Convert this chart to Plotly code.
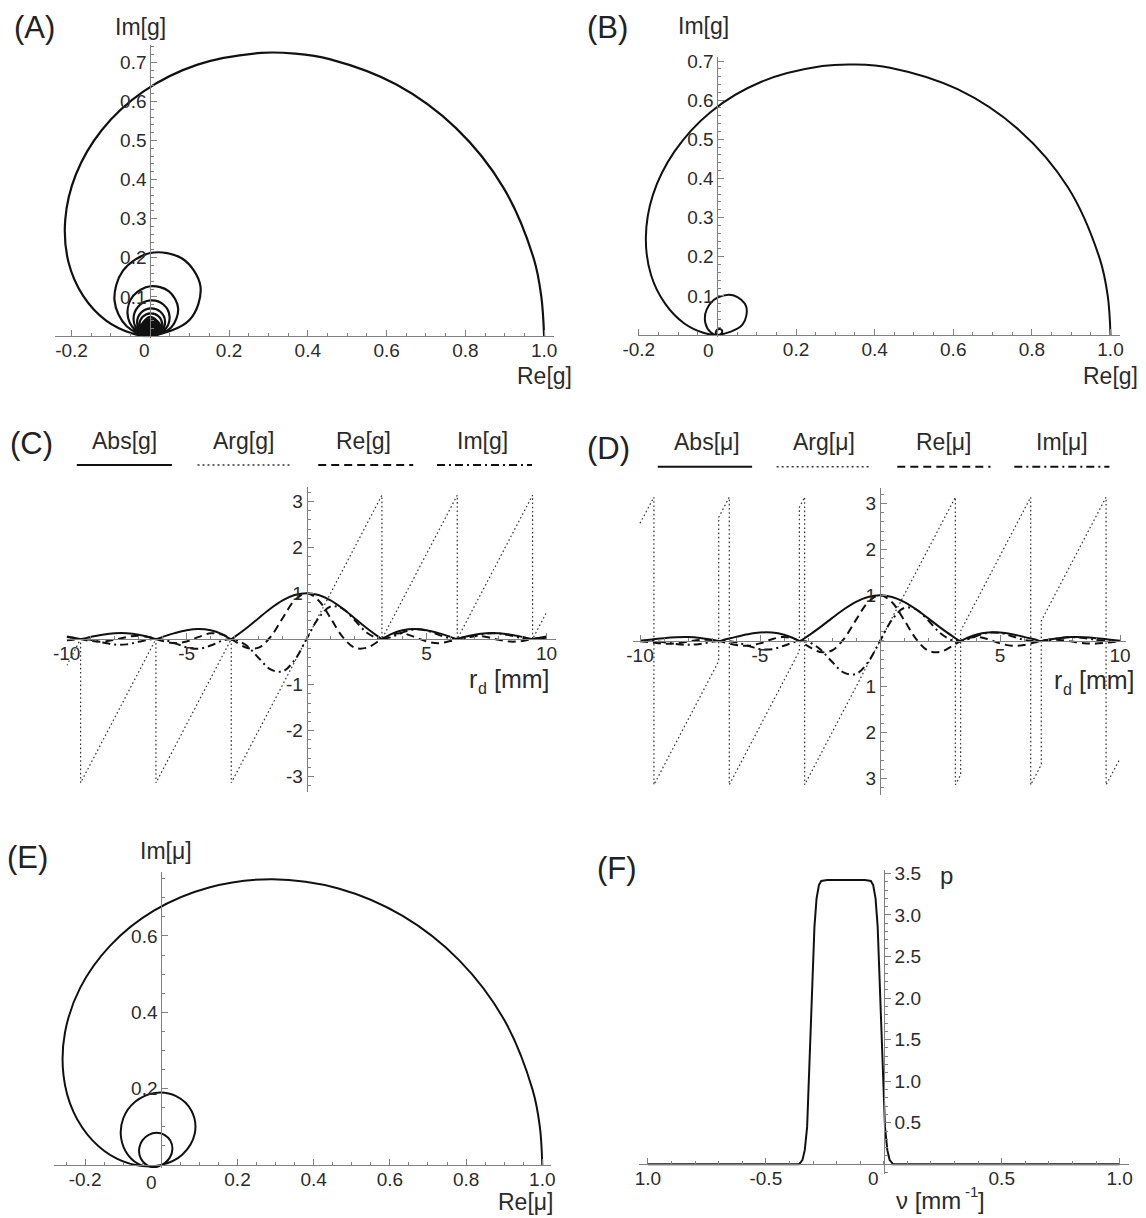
import plotly.graph_objects as go

W, H = 1146, 1218
FONT = "Liberation Sans Narrow, Arial Narrow, Liberation Sans, Arial, sans-serif"
GREY = "#808080"
TXT = "#2b2b2b"
INK = "#111111"

# ---------------- (A) g(r) on the complex plane, r >= 0 ----------------
A_RE = [1.000, 0.993, 0.974, 0.897, 0.777, 0.625, 0.455, 0.368, 0.281, 0.120, -0.018,
        -0.123, -0.189, -0.216, -0.208, -0.170, -0.113, -0.047, 0.0,
        0.1000, 0.1273, 0.0818, 0.0, -0.0693, -0.0909, -0.0600, 0.0,
        0.0530, 0.0707, 0.0474, 0.0, -0.0429, -0.0579, -0.0392, 0.0,
        0.0360, 0.0490, 0.0333, 0.0, -0.0310, -0.0424, -0.0290, 0.0,
        0.0273, 0.0375, 0.0257, 0.0, -0.0243, -0.0335, -0.0231, 0.0,
        0.0220, 0.0303, 0.0209, 0.0, -0.0200, -0.0277, -0.0192, 0.0,
        0.0255, 0.0, -0.0236, 0.0,
        0.0219, 0.0, -0.0205, 0.0,
        0.0193, 0.0, -0.0182, 0.0,
        0.0172, 0.0, -0.0163, 0.0,
        0.0155, 0.0, -0.0148, 0.0,
        0.0141, 0.0, -0.0135, 0.0,
        0.0130, 0.0, -0.0125, 0.0,
        0.0120, 0.0, -0.0116, 0.0,
        0.0112, 0.0, -0.0108, 0.0,
        0.0104, 0.0, -0.0101, 0.0,
        0.0098, 0.0, -0.0095, 0.0,
        0.0092, 0.0, -0.0090, 0.0,
        0.0087, 0.0, -0.0085, 0.0,
        0.0083, 0.0, -0.0081, 0.0,
        0.0079, 0.0, -0.0077, 0.0,
        0.0075, 0.0, -0.0073, 0.0,
        0.0072, 0.0, -0.0070, 0.0,
        0.0069, 0.0, -0.0067, 0.0,
        0.0066, 0.0, -0.0064, 0.0,
        0.0063, 0.0, -0.0062, 0.0,
        0.0056, 0.0, -0.0055, 0.0,
        0.0050, 0.0, -0.0049, 0.0,
        0.0042, 0.0, -0.0041, 0.0,
        0.0035, 0.0, -0.0035, 0.0,
        0.0026, 0.0, -0.0026, 0.0]
A_IM = [0.000, 0.100, 0.197, 0.379, 0.531, 0.643, 0.708, 0.722, 0.724, 0.694, 0.625,
        0.527, 0.413, 0.297, 0.190, 0.102, 0.040, 0.007, 0.0,
        0.0414, 0.1273, 0.1976, 0.2122, 0.1672, 0.0909, 0.0249, 0.0,
        0.0219, 0.0707, 0.1144, 0.1273, 0.1035, 0.0579, 0.0162, 0.0,
        0.0149, 0.0490, 0.0805, 0.0909, 0.0749, 0.0424, 0.0120, 0.0,
        0.0113, 0.0375, 0.0621, 0.0707, 0.0587, 0.0335, 0.0096, 0.0,
        0.0091, 0.0303, 0.0505, 0.0579, 0.0483, 0.0277, 0.0079, 0.0,
        0.0255, 0.0490, 0.0236, 0.0,
        0.0219, 0.0424, 0.0205, 0.0,
        0.0193, 0.0375, 0.0182, 0.0,
        0.0172, 0.0335, 0.0163, 0.0,
        0.0155, 0.0303, 0.0148, 0.0,
        0.0141, 0.0277, 0.0135, 0.0,
        0.0130, 0.0255, 0.0125, 0.0,
        0.0120, 0.0236, 0.0116, 0.0,
        0.0112, 0.0220, 0.0108, 0.0,
        0.0104, 0.0205, 0.0101, 0.0,
        0.0098, 0.0193, 0.0095, 0.0,
        0.0092, 0.0182, 0.0090, 0.0,
        0.0087, 0.0172, 0.0085, 0.0,
        0.0083, 0.0163, 0.0081, 0.0,
        0.0079, 0.0155, 0.0077, 0.0,
        0.0075, 0.0148, 0.0073, 0.0,
        0.0072, 0.0142, 0.0070, 0.0,
        0.0069, 0.0135, 0.0067, 0.0,
        0.0066, 0.0130, 0.0064, 0.0,
        0.0063, 0.0125, 0.0062, 0.0,
        0.0056, 0.0112, 0.0055, 0.0,
        0.0050, 0.0098, 0.0049, 0.0,
        0.0042, 0.0083, 0.0041, 0.0,
        0.0035, 0.0070, 0.0035, 0.0,
        0.0026, 0.0053, 0.0026, 0.0]

# ---------------- (B) apodised g(r) ----------------
B_RE = [1.000, 0.993, 0.972, 0.892, 0.767, 0.611, 0.439, 0.352, 0.267, 0.112, -0.017,
        -0.109, -0.164, -0.182, -0.169, -0.133, -0.085, -0.034, 0.0,
        0.0638, 0.0731, 0.0418, 0.0, -0.0271, -0.0306, -0.0172, 0.0,
        0.0107, 0.0117, 0.0064, 0.0, -0.0037, -0.0039, -0.0021, 0.0]
B_IM = [0.000, 0.100, 0.197, 0.377, 0.524, 0.628, 0.683, 0.691, 0.687, 0.647, 0.570,
        0.469, 0.358, 0.249, 0.154, 0.080, 0.030, 0.005, 0.0,
        0.0264, 0.0731, 0.1010, 0.0954, 0.0654, 0.0306, 0.0071, 0.0,
        0.0044, 0.0117, 0.0154, 0.0138, 0.0089, 0.0039, 0.0009, 0.0]

# ---------------- (C) components of g versus r_d ----------------
RD_G = [-10, -9.5, -9.42, -9, -8.5, -8, -7.5, -7, -6.5, -6.28, -6, -5.5, -5, -4.5, -4,
        -3.5, -3.14, -3, -2.5, -2, -1.5, -1, -0.5, 0, 0.5, 1, 1.5, 2, 2.5, 3, 3.14, 3.5,
        4, 4.5, 5, 5.5, 6, 6.28, 6.5, 7, 7.5, 8, 8.5, 9, 9.42, 9.5, 10]
ABS_G = [0.0544, 0.0079, 0.0, 0.0458, 0.0939, 0.1237, 0.1251, 0.0939, 0.0331, 0.0, 0.0466,
         0.1283, 0.1918, 0.2172, 0.1892, 0.1002, 0.0, 0.0470, 0.2394, 0.4546, 0.6650,
         0.8415, 0.9589, 1.0, 0.9589, 0.8415, 0.6650, 0.4546, 0.2394, 0.0470, 0.0, 0.1002,
         0.1892, 0.2172, 0.1918, 0.1283, 0.0466, 0.0, 0.0331, 0.0939, 0.1251, 0.1237,
         0.0939, 0.0458, 0.0, 0.0079, 0.0544]
RE_G = [0.0456, 0.0079, 0.0, -0.0417, -0.0565, -0.0180, 0.0433, 0.0707, 0.0323, 0.0, -0.0447,
        -0.0909, -0.0544, 0.0458, 0.1237, 0.0939, 0.0, -0.0466, -0.1918, -0.1892, 0.0470,
        0.4546, 0.8415, 1.0, 0.8415, 0.4546, 0.0470, -0.1892, -0.1918, -0.0466, 0.0, 0.0939,
        0.1237, 0.0458, -0.0544, -0.0909, -0.0447, 0.0, 0.0323, 0.0707, 0.0433, -0.0180,
        -0.0565, -0.0417, 0.0, 0.0079, 0.0456]
IM_G = [-0.0296, -0.0006, 0.0, -0.0189, -0.0750, -0.1224, -0.1173, -0.0617, -0.0071, 0.0,
        -0.0130, -0.0905, -0.1839, -0.2123, -0.1432, -0.0352, 0.0, -0.0066, -0.1433, -0.4134,
        -0.6633, -0.7081, -0.4597, 0.0, 0.4597, 0.7081, 0.6633, 0.4134, 0.1433, 0.0066, 0.0,
        0.0352, 0.1432, 0.2123, 0.1839, 0.0905, 0.0130, 0.0, 0.0071, 0.0617, 0.1173, 0.1224,
        0.0750, 0.0189, 0.0, 0.0006, 0.0296]
ARG_G_R = [-10, -9.42, -9.42, -6.28, -6.28, -3.14, -3.14, 3.14, 3.14, 6.28, 6.28, 9.42, 9.42, 10]
ARG_G = [-0.58, 0.0, -3.14, 0.0, -3.14, 0.0, -3.14, 3.14, 0.0, 3.14, 0.0, 3.14, 0.0, 0.58]

# ---------------- (D) components of mu versus r_d ----------------
RD_M = [-10, -9.5, -9, -8.5, -8, -7.5, -7, -6.72, -6.5, -6, -5.5, -5, -4.5, -4, -3.5, -3.36,
        -3, -2.5, -2, -1.5, -1, -0.5, 0, 0.5, 1, 1.5, 2, 2.5, 3, 3.36, 3.5, 4, 4.5, 5, 5.5,
        6, 6.5, 6.72, 7, 7.5, 8, 8.5, 9, 9.5, 10]
ABS_M = [0.0044, 0.0341, 0.0624, 0.0817, 0.0853, 0.0681, 0.0296, 0.0, 0.0261, 0.0902, 0.1477,
         0.1843, 0.1845, 0.1370, 0.0371, 0.0, 0.1119, 0.2969, 0.4991, 0.6935, 0.8556, 0.9625,
         1.0, 0.9625, 0.8556, 0.6935, 0.4991, 0.2969, 0.1119, 0.0, 0.0371, 0.1370, 0.1845,
         0.1843, 0.1477, 0.0902, 0.0261, 0.0, 0.0296, 0.0681, 0.0853, 0.0817, 0.0624, 0.0341,
         0.0044]
RE_M = [-0.0037, -0.0340, -0.0569, -0.0492, -0.0124, 0.0236, 0.0223, 0.0, -0.0255, -0.0866,
        -0.1047, -0.0523, 0.0389, 0.0895, 0.0347, 0.0, -0.1108, -0.2378, -0.2077, 0.0490,
        0.4623, 0.8447, 1.0, 0.8447, 0.4623, 0.0490, -0.2077, -0.2378, -0.1108, 0.0, 0.0347,
        0.0895, 0.0389, -0.0523, -0.1047, -0.0866, -0.0255, 0.0, 0.0223, 0.0236, -0.0124,
        -0.0492, -0.0569, -0.0340, -0.0037]
IM_M = [0.0024, 0.0026, -0.0257, -0.0652, -0.0844, -0.0639, -0.0194, 0.0, 0.0056, -0.0252,
        -0.1042, -0.1767, -0.1804, -0.1037, -0.0130, 0.0, -0.0158, -0.1777, -0.4538, -0.6918,
        -0.7200, -0.4614, 0.0, 0.4614, 0.7200, 0.6918, 0.4538, 0.1777, 0.0158, 0.0, 0.0130,
        0.1037, 0.1804, 0.1767, 0.1042, 0.0252, -0.0056, 0.0, 0.0194, 0.0639, 0.0844, 0.0652,
        0.0257, -0.0026, -0.0024]
ARG_M_R = [-10, -9.42, -9.42, -6.72, -6.72, -6.28, -6.28, -3.36, -3.36, -3.14, -3.14, 3.14,
           3.14, 3.36, 3.36, 6.28, 6.28, 6.72, 6.72, 9.42, 9.42, 10]
ARG_M = [2.57, 3.14, -3.14, -0.44, 2.70, 3.14, -3.14, -0.22, 2.92, 3.14, -3.14, 3.14,
         -3.14, -2.92, 0.22, 3.14, -3.14, -2.70, 0.44, 3.14, -3.14, -2.57]

# ---------------- (E) mu(r) on the complex plane, 0 <= r <= 10 ----------------
E_RE = [1.0, 0.9936, 0.9744, 0.8999, 0.7827, 0.6336, 0.4650, 0.2911, 0.1254, -0.0195,
        -0.1341, -0.2127, -0.2528, -0.2567, -0.2302, -0.1800, -0.1168, -0.0497, 0.0,
        0.0548, 0.0880, 0.0795, 0.0389, -0.0166, -0.0679, -0.1000, -0.1053, -0.0866, -0.0514, 0.0,
        0.0223, 0.0292, 0.0236, 0.0082, -0.0124, -0.0331, -0.0492, -0.0575, -0.0569, -0.0481,
        -0.0340, -0.0180, -0.0037]
E_IM = [0.0, 0.0997, 0.1975, 0.3804, 0.5354, 0.6524, 0.7243, 0.7486, 0.7271, 0.6664,
        0.5749, 0.4647, 0.3472, 0.2351, 0.1385, 0.0640, 0.0167, -0.0029, 0.0,
        0.0270, 0.0833, 0.1414, 0.1803, 0.1888, 0.1662, 0.1218, 0.0695, 0.0252, -0.0009, 0.0,
        0.0194, 0.0423, 0.0639, 0.0790, 0.0844, 0.0792, 0.0652, 0.0460, 0.0257, 0.0085,
        -0.0026, -0.0061, -0.0024]

# ---------------- (F) spectral density p(nu) ----------------
F_NU = [-1.0, -0.36, -0.345, -0.335, -0.325, -0.314, -0.305, -0.294, -0.285, -0.275, -0.265,
        -0.24, -0.08, -0.055, -0.045, -0.035, -0.026, -0.015, -0.006, 0.005, 0.015, 0.025,
        0.04, 1.0]
F_P = [0.0, 0.0, 0.05, 0.17, 0.45, 1.26, 2.06, 2.86, 3.2, 3.36, 3.41, 3.42, 3.42, 3.41, 3.36,
       3.2, 2.86, 2.06, 1.26, 0.45, 0.17, 0.05, 0.0, 0.0]

# ---------------- tick labels ----------------
CPLX_X_TICKS = [-0.2, 0.2, 0.4, 0.6, 0.8, 1.0]
CPLX_X_TEXT = ["-0.2", "0.2", "0.4", "0.6", "0.8", "1.0"]
AB_Y_TICKS = [0.1, 0.2, 0.3, 0.4, 0.5, 0.6, 0.7]
AB_Y_TEXT = ["0.1", "0.2", "0.3", "0.4", "0.5", "0.6", "0.7"]
E_Y_TICKS = [0.2, 0.4, 0.6]
E_Y_TEXT = ["0.2", "0.4", "0.6"]
RD_TICKS = [-10, -5, 5, 10]
RD_TEXT = ["-10", "-5", "5", "10"]
CD_Y_TICKS = [-3, -2, -1, 1, 2, 3]
C_Y_TEXT = ["-3", "-2", "-1", "1", "2", "3"]
D_Y_TEXT = ["3", "2", "1", "1", "2", "3"]
F_X_TICKS = [-1.0, -0.5, 0.5, 1.0]
F_X_TEXT = ["1.0", "-0.5", "0.5", "1.0"]
F_Y_TICKS = [0.5, 1.0, 1.5, 2.0, 2.5, 3.0, 3.5]
F_Y_TEXT = ["0.5", "1.0", "1.5", "2.0", "2.5", "3.0", "3.5"]

TICKFONT = dict(family=FONT, size=19, color=TXT)


def place(x0, sx, xr, y0, sy, yr):
    """Origin of the data at pixel (x0, y0); sx, sy are pixels per data unit."""
    xd = [(x0 + xr[0] * sx) / W, (x0 + xr[1] * sx) / W]
    yd = [1 - (y0 - yr[0] * sy) / H, 1 - (y0 - yr[1] * sy) / H]
    return xd, yd, 1 - y0 / H, x0 / W


def xaxis(dom, rng, pos, tv, tt, mdt):
    return dict(domain=dom, range=rng, anchor="free", position=pos, side="bottom",
                showline=True, linecolor=GREY, linewidth=1, ticks="inside", ticklen=6,
                tickwidth=1, tickcolor=GREY, tickmode="array", tickvals=tv, ticktext=tt,
                tickfont=TICKFONT, ticklabelstandoff=-3, showgrid=False, zeroline=False,
                fixedrange=True, automargin=False,
                minor=dict(ticks="inside", ticklen=3, tickwidth=1, tickcolor=GREY,
                           tickmode="linear", tick0=0, dtick=mdt, showgrid=False))


def yaxis(dom, rng, pos, tv, tt, mdt, side="left"):
    tk = "inside" if side == "left" else "outside"
    return dict(domain=dom, range=rng, anchor="free", position=pos, side=side,
                showline=True, linecolor=GREY, linewidth=1, ticks=tk, ticklen=6,
                tickwidth=1, tickcolor=GREY, tickmode="array", tickvals=tv, ticktext=tt,
                tickfont=TICKFONT, showgrid=False, zeroline=False, fixedrange=True,
                automargin=False,
                minor=dict(ticks=tk, ticklen=3, tickwidth=1, tickcolor=GREY,
                           tickmode="linear", tick0=0, dtick=mdt, showgrid=False))


fig = go.Figure()
layout = {}

ranges = {
    1: ((-0.242, 1.025), (-0.004, 0.745)),
    2: ((-0.203, 1.023), (-0.004, 0.711)),
    3: ((-10.0, 10.38), (-3.33, 3.31)),
    4: ((-10.3, 10.24), (-3.36, 3.33)),
    5: ((-0.281, 1.024), (-0.008, 0.768)),
    6: ((-1.036, 1.04), (-0.12, 3.54)),
}
origins = {  # (x0 px, px per x unit, y0 px, px per y unit)
    1: (150.3, 393.8, 336.0, 391.0),
    2: (717.4, 393.1, 335.0, 391.4),
    3: (306.6, 23.99, 639.0, 45.8),
    4: (880.0, 24.0, 641.0, 45.8),
    5: (161.3, 381.0, 1165.0, 381.7),
    6: (883.8, 235.9, 1164.3, 83.1),
}
xticks = {1: (CPLX_X_TICKS, CPLX_X_TEXT, 0.05), 2: (CPLX_X_TICKS, CPLX_X_TEXT, 0.05),
          3: (RD_TICKS, RD_TEXT, 1), 4: (RD_TICKS, RD_TEXT, 1),
          5: (CPLX_X_TICKS, CPLX_X_TEXT, 0.05), 6: (F_X_TICKS, F_X_TEXT, 0.1)}
yticks = {1: (AB_Y_TICKS, AB_Y_TEXT, 0.02), 2: (AB_Y_TICKS, AB_Y_TEXT, 0.02),
          3: (CD_Y_TICKS, C_Y_TEXT, 0.2), 4: (CD_Y_TICKS, D_Y_TEXT, 0.2),
          5: (E_Y_TICKS, E_Y_TEXT, 0.05), 6: (F_Y_TICKS, F_Y_TEXT, 0.1)}

for n in range(1, 7):
    xr, yr = ranges[n]
    x0, sx, y0, sy = origins[n]
    xd, yd, xpos, ypos = place(x0, sx, xr, y0, sy, yr)
    sfx = "" if n == 1 else str(n)
    tv, tt, mdt = xticks[n]
    layout["xaxis" + sfx] = xaxis(xd, list(xr), xpos, tv, tt, mdt)
    tv, tt, mdt = yticks[n]
    layout["yaxis" + sfx] = yaxis(yd, list(yr), ypos, tv, tt, mdt,
                                  side="right" if n == 6 else "left")


def curve(n, x, y, width=2.0, dash="solid", shape="spline", color=INK):
    sfx = "" if n == 1 else str(n)
    fig.add_trace(go.Scatter(x=x, y=y, mode="lines", xaxis="x" + sfx, yaxis="y" + sfx,
                             line=dict(color=color, width=width, dash=dash, shape=shape),
                             showlegend=False, hoverinfo="skip"))


DASH = "8px,5px"
DASHDOT = "8px,4px,2px,4px"
DOT = "1.6px,2.6px"
DOT_COLOR = "#333333"

curve(1, A_RE, A_IM, width=2.2)
curve(2, B_RE, B_IM)

curve(3, ARG_G_R, ARG_G, width=1.2, dash=DOT, shape="linear", color=DOT_COLOR)
curve(3, RD_G, IM_G, dash=DASHDOT)
curve(3, RD_G, RE_G, dash=DASH)
curve(3, RD_G, ABS_G)

curve(4, ARG_M_R, ARG_M, width=1.2, dash=DOT, shape="linear", color=DOT_COLOR)
curve(4, RD_M, IM_M, dash=DASHDOT)
curve(4, RD_M, RE_M, dash=DASH)
curve(4, RD_M, ABS_M)

curve(5, E_RE, E_IM)
curve(6, F_NU, F_P, shape="linear")

annotations = []


def label(px, py, text, size=22, color=TXT, anchor="center"):
    annotations.append(dict(x=px / W, y=1 - py / H, xref="paper", yref="paper", text=text,
                            showarrow=False, xanchor=anchor, yanchor="middle",
                            font=dict(family=FONT, size=size, color=color)))


# panel letters
for px, py, t in [(34, 28, "(A)"), (607, 27, "(B)"), (31, 443, "(C)"), (608, 448, "(D)"),
                  (27, 857, "(E)"), (617, 868, "(F)")]:
    label(px, py, t, size=31, color="#222222")

# axis names
label(140, 27, "Im[g]", size=23)
label(544, 376, "Re[g]", size=23)
label(703.5, 26, "Im[g]", size=23)
label(1110, 376, "Re[g]", size=23)
label(166.4, 851, "Im[μ]", size=23)
label(525, 1202, "Re[μ]", size=23)
label(946.7, 875, "p", size=24)

# r_d [mm] with a lowered, smaller "d"
for lx, ly in [(467, 679), (1052, 680)]:
    label(lx, ly, "r", size=25, anchor="left")
    label(lx + 8.5, ly + 9, "d", size=16, anchor="left")
    label(lx + 25, ly, "[mm]", size=25, anchor="left")

# nu [mm^-1] with a raised, smaller exponent
label(894, 1200, "ν [mm", size=24, anchor="left")
label(963, 1191, "-1", size=15, anchor="left")
label(976, 1200, "]", size=24, anchor="left")

# origin labels
for px, py in [(144.5, 350), (708.2, 350), (151.8, 1182), (873.5, 1178)]:
    label(px, py, "0", size=19)

# legends of (C) and (D): name above a line sample
shapes = []
LEG_STYLES = [("solid", 2.0, INK), ("2px,3px", 1.4, DOT_COLOR), (DASH, 2.0, INK),
              (DASHDOT, 2.0, INK)]
LEG_C = [("Abs[g]", 124.3, 76.8, 171.9), ("Arg[g]", 243.2, 197.5, 292.6),
         ("Re[g]", 363.9, 318.2, 413.2), ("Im[g]", 482.7, 437.0, 532.0)]
LEG_D = [("Abs[μ]", 707.1, 657.8, 752.1), ("Arg[μ]", 824.2, 776.6, 871.7),
         ("Re[μ]", 943.0, 897.3, 990.5), ("Im[μ]", 1061.9, 1014.3, 1109.4)]
for entries, ty, ly in [(LEG_C, 441, 465.0), (LEG_D, 442, 466.7)]:
    for (name, cx, x0, x1), (dash, wdt, col) in zip(entries, LEG_STYLES):
        label(cx, ty, name, size=23)
        shapes.append(dict(type="line", xref="paper", yref="paper", x0=x0 / W, x1=x1 / W,
                           y0=1 - ly / H, y1=1 - ly / H,
                           line=dict(color=col, width=wdt, dash=dash)))

fig.update_layout(width=W, height=H, margin=dict(l=0, r=0, t=0, b=0),
                  paper_bgcolor="white", plot_bgcolor="white", showlegend=False,
                  annotations=annotations, shapes=shapes, **layout)

fig.write_html("out.html", config={"displayModeBar": False})
